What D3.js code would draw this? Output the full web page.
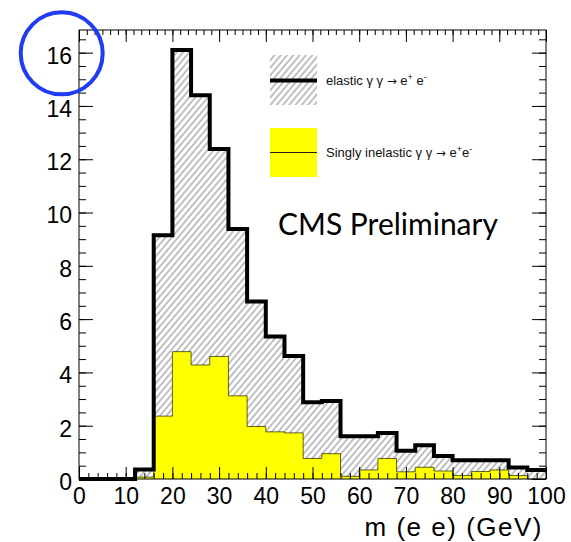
<!DOCTYPE html>
<html>
<head>
<meta charset="utf-8">
<script src="https://cdn.jsdelivr.net/npm/d3@7"></script>
<style>
  body { margin: 0; background: #fff; }
  .tick text { font-family: "Liberation Sans", Arial, sans-serif; fill: #000; }
  .tick line { stroke: #000; }
</style>
</head>
<body>
<div class="canvas"></div>
<script>
// bin edges of the m(ee) histogram, GeV
const binEdges = [0, 4, 8, 12, 16, 20, 24, 28, 32, 36, 40, 44, 48, 52, 56, 60, 64, 68, 72, 76, 80, 84, 88, 92, 96, 100];
// stacked total (elastic on top of singly inelastic) -> black outline
const totalCounts = [0, 0, 0, 0.36, 9.15, 16.1, 14.4, 12.38, 9.38, 6.66, 5.35, 4.62, 2.88, 2.93, 1.6, 1.6, 1.73, 1.06, 1.27, 0.86, 0.7, 0.7, 0.7, 0.43, 0.34];
// singly inelastic part (yellow)
const inelasticCounts = [0, 0, 0, 0.07, 2.36, 4.78, 4.28, 4.6, 3.12, 1.97, 1.77, 1.73, 0.77, 0.95, 0.1, 0.34, 0.77, 0.27, 0.44, 0.3, 0.13, 0.28, 0.34, 0.13, 0];
const xTicks = [0, 10, 20, 30, 40, 50, 60, 70, 80, 90, 100];
const yTicks = [0, 2, 4, 6, 8, 10, 12, 14, 16];
const legendLabels = ['elastic', 'Singly inelastic'];

const width = 571, height = 542;
const frameL = 79, frameR = 546, frameT = 30, frameB = 479;

const svg = d3.select('.canvas')
    .append('svg')
    .attr('width', width)
    .attr('height', height)
    ;

svg.append('rect').attr('width', width).attr('height', height).attr('fill', '#fff');

const xScale = d3.scaleLinear()
    .domain([0, 100])
    .range([frameL, frameR])
    ;

const yScale = d3.scaleLinear()
    .domain([0, 16.85])
    .range([frameB, frameT])
    ;

//hatch pattern (ROOT style 3004-ish)
const defs = svg.append('defs');
defs.append('pattern')
    .attr('id', 'hatch')
    .attr('patternUnits', 'userSpaceOnUse')
    .attr('width', 4.8)
    .attr('height', 10)
    .attr('patternTransform', 'rotate(40)')
    .call(p => {
        p.append('rect').attr('width', 4.8).attr('height', 10).attr('fill', '#fff');
        p.append('line')
            .attr('x1', 1).attr('x2', 1)
            .attr('y1', 0).attr('y2', 10)
            .attr('stroke', '#606060')
            .attr('stroke-width', 0.8);
    });

// histogram step points
const steps = (values) => values.flatMap((v, i) => [[binEdges[i], v], [binEdges[i + 1], v]]);

const area = d3.area()
    .x(d => xScale(d[0]))
    .y0(yScale(0))
    .y1(d => yScale(d[1]));

const line = d3.line()
    .x(d => xScale(d[0]))
    .y(d => yScale(d[1]));

//Add hatched elastic (stack total)
svg.append('path')
    .attr('d', area(steps(totalCounts)))
    .attr('fill', 'url(#hatch)')
    .attr('stroke', 'none');

//Add yellow inelastic
svg.append('path')
    .attr('d', area(steps(inelasticCounts)))
    .attr('fill', '#ffff00')
    .attr('stroke', 'none');
svg.append('path')
    .attr('d', line(steps(inelasticCounts)))
    .attr('fill', 'none')
    .attr('stroke', '#3a3a00')
    .attr('stroke-width', 0.8);

//Add thick outline
svg.append('path')
    .attr('d', line(steps(totalCounts)))
    .attr('fill', 'none')
    .attr('stroke', '#000')
    .attr('stroke-width', 4)
    .attr('stroke-linejoin', 'miter');

//Add frame
svg.append('rect')
    .attr('x', frameL).attr('y', frameT)
    .attr('width', frameR - frameL).attr('height', frameB - frameT)
    .attr('fill', 'none')
    .attr('stroke', '#000')
    .attr('stroke-width', 1);

const minorX = d3.range(0, 100.01, 2);
const minorXTop = d3.range(0, 100.01, 10 / 6);
const minorY = d3.range(0, 16.85, 0.5);

//x-axis bottom
svg.append('g')
    .attr('transform', `translate(0, ${frameB})`)
    .call(d3.axisBottom(xScale).tickValues(minorX).tickSizeInner(-6).tickSizeOuter(0).tickFormat(''))
    .call(g => g.select('.domain').remove());
svg.append('g')
    .attr('id', 'x-axis')
    .attr('transform', `translate(0, ${frameB})`)
    .call(d3.axisBottom(xScale).tickValues(xTicks).tickSizeInner(-12).tickSizeOuter(0).tickPadding(9).tickFormat(d3.format('d')))
    .call(g => g.select('.domain').remove())
    .call(g => g.selectAll('text').attr('font-size', 23));

//x-axis top
svg.append('g')
    .attr('transform', `translate(0, ${frameT})`)
    .call(d3.axisTop(xScale).tickValues(minorXTop).tickSizeInner(-5).tickSizeOuter(0).tickFormat(''))
    .call(g => g.select('.domain').remove());
svg.append('g')
    .attr('transform', `translate(0, ${frameT})`)
    .call(d3.axisTop(xScale).tickValues(xTicks).tickSizeInner(-12).tickSizeOuter(0).tickFormat(''))
    .call(g => g.select('.domain').remove());

//y-axis left
svg.append('g')
    .attr('transform', `translate(${frameL}, 0)`)
    .call(d3.axisLeft(yScale).tickValues(minorY).tickSizeInner(-7).tickSizeOuter(0).tickFormat(''))
    .call(g => g.select('.domain').remove());
svg.append('g')
    .attr('id', 'y-axis')
    .attr('transform', `translate(${frameL}, 0)`)
    .call(d3.axisLeft(yScale).tickValues(yTicks).tickSizeInner(-14).tickSizeOuter(0).tickPadding(7).tickFormat(d3.format('d')))
    .call(g => g.select('.domain').remove())
    .call(g => g.selectAll('text').attr('font-size', 23).attr('dy', '0.45em'));

//y-axis right
svg.append('g')
    .attr('transform', `translate(${frameR}, 0)`)
    .call(d3.axisRight(yScale).tickValues(minorY).tickSizeInner(-7).tickSizeOuter(0).tickFormat(''))
    .call(g => g.select('.domain').remove());
svg.append('g')
    .attr('transform', `translate(${frameR}, 0)`)
    .call(d3.axisRight(yScale).tickValues(yTicks).tickSizeInner(-14).tickSizeOuter(0).tickFormat(''))
    .call(g => g.select('.domain').remove());

//x-axis title
svg.append('text')
    .attr('x', 543)
    .attr('y', 536)
    .attr('text-anchor', 'end')
    .attr('font-family', '"Liberation Sans", Arial, sans-serif')
    .attr('font-size', 26)
    .attr('letter-spacing', 1.5)
    .text('m (e e) (GeV)');

//CMS label
svg.append('text')
    .attr('x', 278)
    .attr('y', 235)
    .attr('font-family', 'Lato, "Open Sans", sans-serif')
    .attr('font-size', 30)
    .text('CMS Preliminary');

//Add legend
const legend = svg.append('g').attr('id', 'legend')
    .attr('font-family', '"Liberation Sans", Arial, sans-serif')
    .attr('font-size', 13)
    .attr('fill', '#111');

const arrowFont = '"DejaVu Sans", sans-serif';

legend.append('rect')
    .attr('x', 270).attr('y', 55).attr('width', 47).attr('height', 50)
    .attr('fill', 'url(#hatch)');
legend.append('line')
    .attr('x1', 270).attr('x2', 317).attr('y1', 80.5).attr('y2', 80.5)
    .attr('stroke', '#000').attr('stroke-width', 4);
legend.append('text')
    .attr('x', 326).attr('y', 85)
    .call(t => {
        t.append('tspan').text(legendLabels[0] + ' \u03b3 \u03b3 ');
        t.append('tspan').attr('font-family', arrowFont).attr('font-size', 12).text('\u2192');
        t.append('tspan').text(' e');
        t.append('tspan').attr('dy', -5).attr('font-size', 9).text('+');
        t.append('tspan').attr('dy', 5).text(' e');
        t.append('tspan').attr('dy', -5).attr('font-size', 9).text('-');
    });

legend.append('rect')
    .attr('x', 270).attr('y', 128).attr('width', 47).attr('height', 49)
    .attr('fill', '#ffff00');
legend.append('line')
    .attr('x1', 270).attr('x2', 317).attr('y1', 152.5).attr('y2', 152.5)
    .attr('stroke', '#222').attr('stroke-width', 1);
legend.append('text')
    .attr('x', 326).attr('y', 157)
    .call(t => {
        t.append('tspan').text(legendLabels[1] + ' \u03b3 \u03b3 ');
        t.append('tspan').attr('font-family', arrowFont).attr('font-size', 12).text('\u2192');
        t.append('tspan').text(' e');
        t.append('tspan').attr('dy', -5).attr('font-size', 9).text('+');
        t.append('tspan').attr('dy', 5).text('e');
        t.append('tspan').attr('dy', -5).attr('font-size', 9).text('-');
    });

//Add highlight circle
svg.append('circle')
    .attr('cx', 61.7)
    .attr('cy', 53.3)
    .attr('r', 41)
    .attr('fill', 'none')
    .attr('stroke', '#1f3cf2')
    .attr('stroke-width', 4);
</script>
</body>
</html>
